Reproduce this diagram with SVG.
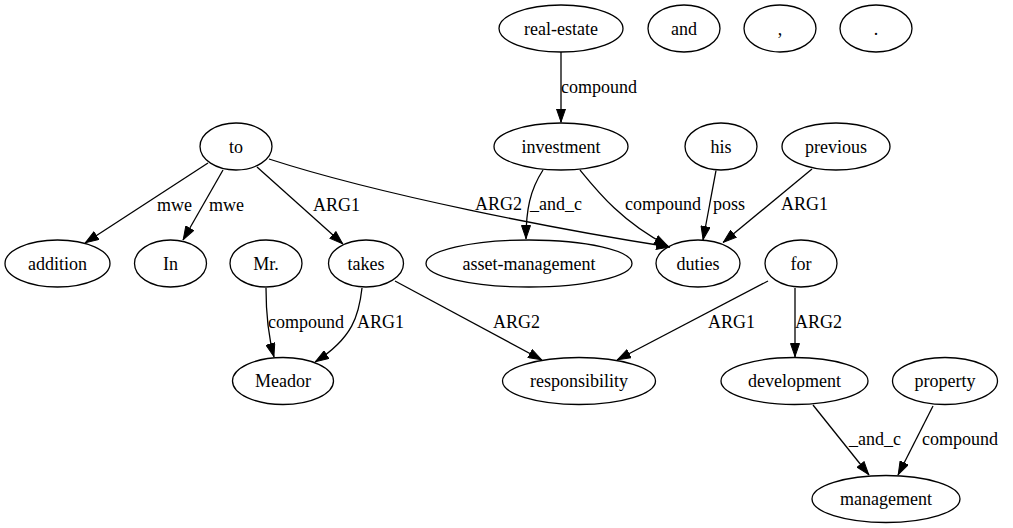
<svg xmlns="http://www.w3.org/2000/svg" width="1013" height="528" viewBox="0 0 1013 528">
<style>
.n ellipse{fill:none;stroke:#000;stroke-width:1.3}
text{font-family:"Liberation Serif","Times New Roman",serif;font-size:18px;fill:#000}
.n text{text-anchor:middle}
.e path{fill:none;stroke:#000;stroke-width:1.3;marker-end:url(#ah)}
</style>
<defs>
<marker id="ah" viewBox="0 0 14 10" refX="14" refY="5" markerWidth="14" markerHeight="10" orient="auto" markerUnits="userSpaceOnUse">
<path d="M0.5,0.5 L13.5,5 L0.5,9.5 z" fill="#000" stroke="#000" stroke-width="1"/>
</marker>
</defs>
<rect width="1013" height="528" fill="#fff"/>
<g id="edges" class="e">
<path d="M561,52 L561,122.5"/>
<path d="M543,170 C530,190 526,210 526,239"/>
<path d="M580,170 C598,192 622,222 668,246"/>
<path d="M716,170.5 L703,240"/>
<path d="M812,169 L723,242.5"/>
<path d="M269,159 C380,195 560,230 670,247"/>
<path d="M208,163 L85,243"/>
<path d="M223,170 L183,240"/>
<path d="M257,167 L343,244"/>
<path d="M266,288 C266,310 268,335 274,357"/>
<path d="M362,288 C359,315 353,338 315,362"/>
<path d="M395,281 L542,360"/>
<path d="M768,281 L617,360"/>
<path d="M795,288 L795,357"/>
<path d="M813,405 L869,475"/>
<path d="M933,406 L898,475"/>
</g>
<g id="edge-labels">
<text x="561" y="93">compound</text>
<text x="157" y="211">mwe</text>
<text x="209" y="211">mwe</text>
<text x="313" y="211">ARG1</text>
<text x="475" y="210">ARG2</text>
<text x="530" y="210">_and_c</text>
<text x="625" y="210">compound</text>
<text x="713" y="210">poss</text>
<text x="781" y="210">ARG1</text>
<text x="268" y="328">compound</text>
<text x="357" y="328">ARG1</text>
<text x="493" y="328">ARG2</text>
<text x="708" y="328">ARG1</text>
<text x="795" y="328">ARG2</text>
<text x="849" y="445">_and_c</text>
<text x="922" y="445">compound</text>
</g>
<g id="real-estate" class="n"><ellipse cx="561" cy="28.5" rx="62" ry="23.5"/><text x="561" y="34.5">real-estate</text></g>
<g id="and" class="n"><ellipse cx="684" cy="28.5" rx="36" ry="23.5"/><text x="684" y="34.5">and</text></g>
<g id="comma" class="n"><ellipse cx="780" cy="28.5" rx="36" ry="23.5"/><text x="780" y="34.5">,</text></g>
<g id="period" class="n"><ellipse cx="876" cy="28.5" rx="36" ry="23.5"/><text x="876" y="34.5">.</text></g>
<g id="to" class="n"><ellipse cx="236" cy="146.5" rx="36" ry="23.5"/><text x="236" y="152.5">to</text></g>
<g id="investment" class="n"><ellipse cx="561" cy="146.5" rx="67" ry="23.5"/><text x="561" y="152.5">investment</text></g>
<g id="his" class="n"><ellipse cx="721" cy="146.5" rx="36" ry="23.5"/><text x="721" y="152.5">his</text></g>
<g id="previous" class="n"><ellipse cx="836" cy="146.5" rx="54" ry="23.5"/><text x="836" y="152.5">previous</text></g>
<g id="addition" class="n"><ellipse cx="57.5" cy="263.5" rx="52.5" ry="23.5"/><text x="57.5" y="269.5">addition</text></g>
<g id="In" class="n"><ellipse cx="170.5" cy="263.5" rx="36" ry="23.5"/><text x="170.5" y="269.5">In</text></g>
<g id="Mr" class="n"><ellipse cx="266" cy="263.5" rx="36" ry="23.5"/><text x="266" y="269.5">Mr.</text></g>
<g id="takes" class="n"><ellipse cx="366" cy="263.5" rx="37.5" ry="23.5"/><text x="366" y="269.5">takes</text></g>
<g id="asset-management" class="n"><ellipse cx="529" cy="263.5" rx="103" ry="23.5"/><text x="529" y="269.5">asset-management</text></g>
<g id="duties" class="n"><ellipse cx="698" cy="263.5" rx="42" ry="23.5"/><text x="698" y="269.5">duties</text></g>
<g id="for" class="n"><ellipse cx="801" cy="263.5" rx="36" ry="23.5"/><text x="801" y="269.5">for</text></g>
<g id="Meador" class="n"><ellipse cx="283" cy="381" rx="50.5" ry="23.5"/><text x="283" y="387">Meador</text></g>
<g id="responsibility" class="n"><ellipse cx="579" cy="381" rx="76.5" ry="23.5"/><text x="579" y="387">responsibility</text></g>
<g id="development" class="n"><ellipse cx="794.5" cy="381" rx="73.5" ry="23.5"/><text x="794.5" y="387">development</text></g>
<g id="property" class="n"><ellipse cx="945" cy="381" rx="52.5" ry="23.5"/><text x="945" y="387">property</text></g>
<g id="management" class="n"><ellipse cx="886" cy="499" rx="74" ry="23.5"/><text x="886" y="505">management</text></g>
</svg>
